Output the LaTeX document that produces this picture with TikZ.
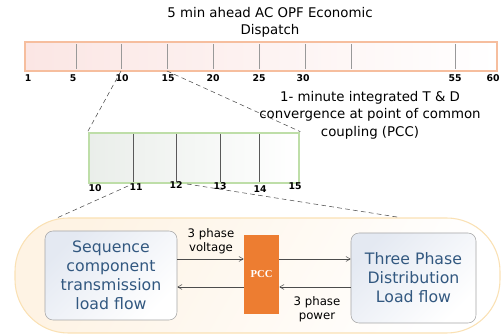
\documentclass[tikz,border=0pt]{standalone}
\usepackage{fontspec}
\setmainfont{DejaVu Sans}
\newfontfamily\pccfont{Liberation Serif}
\usepackage{xcolor}
\usetikzlibrary{arrows}
\usetikzlibrary{positioning}
\definecolor{barline}{RGB}{246,190,158}
\definecolor{barfill}{RGB}{251,230,228}
\definecolor{greenline}{RGB}{190,222,168}
\definecolor{greenfill}{RGB}{234,238,234}
\definecolor{pillline}{RGB}{250,225,180}
\definecolor{pillfill}{RGB}{254,243,228}
\definecolor{boxfill}{RGB}{228,233,242}
\definecolor{boxtext}{RGB}{50,88,128}
\definecolor{pccorange}{RGB}{237,125,49}

\tikzset{
  ticklabel/.style={font=\fontsize{7}{8}\selectfont\bfseries, inner sep=0pt},
  zoomline/.style={draw=black!70, thin, dash pattern=on 3.5pt off 2.5pt},
  flowbox/.style={draw=black!35, rounded corners=6pt, left color=boxfill, right color=white,
    shading angle=45, text=boxtext, align=center, font=\fontsize{11.8}{14.3}\selectfont},
  flow/.style={draw=black!70, -angle 60, shorten >=0pt},
  flowlabel/.style={align=center, font=\fontsize{8.8}{10.5}\selectfont, inner sep=0pt}
}

\begin{document}
\begin{tikzpicture}[x=0.75pt,y=-0.75pt]
\useasboundingbox (0,0) rectangle (501,335);

% titre
\node[align=center, font=\fontsize{10}{12.8}\selectfont] (title) at (270,22)
  {5 min ahead AC OPF Economic\\Dispatch};

% barre du haut (5 min)
\node[draw=barline, line width=2pt, left color=barfill, right color=white,
  minimum width=354pt, minimum height=21.75pt, inner sep=0pt] (dispatch) at (261,56.5) {};
\foreach \xx in {76,121,167,213,259,305,351,455}
  \draw[black!40, thin] (\xx,44) -- (\xx,69);
\foreach \xx/\lab in {28/1,73/5,122/10,168/15,213/20,259/25,303/30,455/55,493/60}
  \node[ticklabel] (t\lab) at (\xx,78) {\lab};

\node[align=center, font=\fontsize{10}{13}\selectfont] (pccnote) at (370,115)
  {1- minute integrated T \& D\\convergence at point of common\\coupling (PCC)};

% barre verte (1 min)
\node[draw=greenline, line width=2pt, left color=greenfill, right color=white,
  minimum width=157.5pt, minimum height=37.5pt, inner sep=0pt] (minute) at (194,158) {};
\foreach \xx in {133,176,220,259}
  \draw[black!65, thin] (\xx,134) -- (\xx,182);
\foreach \xx/\yy/\lab in {95/188/10,136/187/11,176/185/12,220/186/13,260/189/14,295/186/15}
  \node[ticklabel] (m\lab) at (\xx,\yy) {\lab};

% zoom pointilles
\coordinate (ten) at (121,71);
\coordinate (fifteen) at (167,71);
\draw[zoomline] (ten) -- (minute.north west);
\draw[zoomline] (fifteen) -- (minute.north east);

% cadre arrondi
\node[draw=pillline, line width=0.8pt, rounded corners=40pt, left color=pillfill, right color=white,
  shading angle=60, minimum width=363.75pt, minimum height=86.25pt, inner sep=0pt] (pill) at (257.5,275.5) {};
\coordinate (eleven) at (128,186);
\coordinate (twelve) at (187,184);
\draw[zoomline] (eleven) -- (pill.north west -| 58,0);
\draw[zoomline] (twelve) -- (pill.north west -| 400,0);

% blocs
\node[flowbox, minimum width=99pt, minimum height=66.75pt] (seq) at (111,275.5)
  {Sequence\\component\\transmission\\load flow};
\node[flowbox, minimum width=93.75pt, minimum height=67.5pt] (dist) at (413.5,278)
  {Three Phase\\Distribution\\Load flow};
\node[fill=pccorange, minimum width=26.25pt, minimum height=59.25pt, inner sep=0pt,
  text=white, font=\pccfont\bfseries\fontsize{8}{9}\selectfont] (pcc) at (261.5,274.5) {PCC};

% fleches
\coordinate (upper) at (0,259);
\coordinate (lower) at (0,287);
\draw[flow] (seq.east |- upper) -- (pcc.west |- upper);
\draw[flow] (pcc.east |- upper) -- (dist.west |- upper);
\draw[flow] (dist.west |- lower) -- (pcc.east |- lower);
\draw[flow] (pcc.west |- lower) -- (seq.east |- lower);

\node[flowlabel] (volt) at (211,241) {3 phase\\voltage};
\node[flowlabel] (power) at (317,309) {3 phase\\power};
\end{tikzpicture}
\end{document}
